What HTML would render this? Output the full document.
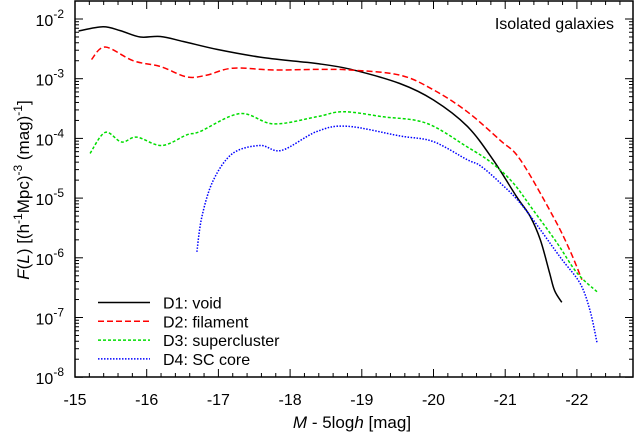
<!DOCTYPE html>
<html><head><meta charset="utf-8"><style>
body{margin:0;background:#fff}
svg{display:block;font-family:"Liberation Sans",sans-serif}
</style></head><body>
<svg id="chart" width="635" height="433" viewBox="0 0 635 433" xmlns="http://www.w3.org/2000/svg">
<g id="plot"></g>
</svg>
<script>
const xMags=[-15,-16,-17,-18,-19,-20,-21,-22];
const yExps=[-2,-3,-4,-5,-6,-7,-8];
const voidX=[-15.05,-15.39,-15.63,-15.91,-16.19,-16.51,-16.98,-17.58,-18.14,-18.37,-18.84,-19.53,-20,-20.47,-20.83,-21.16,-21.35,-21.49,-21.62,-21.69,-21.79];
const voidY=[6.3e-3,7.4e-3,6.4e-3,5.0e-3,5.1e-3,4.2e-3,3.1e-3,2.3e-3,1.93e-3,1.8e-3,1.44e-3,8.3e-4,4.4e-4,1.6e-4,4.4e-5,1.05e-5,4.9e-6,2.0e-6,5.5e-7,2.8e-7,1.8e-7];
const filX=[-15.23,-15.42,-15.81,-16.19,-16.56,-16.84,-17.2,-17.77,-18.37,-18.84,-19.53,-20,-20.47,-20.93,-21.21,-21.67,-21.9,-22.07];
const filY=[2.1e-3,3.4e-3,2.0e-3,1.6e-3,1.07e-3,1.15e-3,1.5e-3,1.4e-3,1.43e-3,1.4e-3,1.15e-3,6.5e-4,2.8e-4,9.3e-5,4.4e-5,4.9e-6,1.35e-6,4.3e-7];
const supX=[-15.21,-15.42,-15.65,-15.86,-16.21,-16.56,-16.74,-17.3,-17.77,-18.37,-18.74,-19.3,-19.9,-20.47,-20.81,-21.11,-21.39,-21.72,-22.0,-22.28];
const supY=[5.6e-5,1.26e-4,8.7e-5,1.05e-4,7.6e-5,1.15e-4,1.3e-4,2.6e-4,1.75e-4,2.3e-4,2.8e-4,2.3e-4,1.8e-4,7.2e-5,3.9e-5,1.8e-5,6.3e-6,1.8e-6,5.6e-7,2.7e-7];
const scX=[-16.7,-16.77,-16.93,-17.2,-17.58,-17.88,-18.37,-18.79,-19.53,-19.99,-20.47,-20.65,-20.93,-21.25,-21.76,-22.04,-22.18,-22.28];
const scY=[1.26e-6,4.9e-6,2.0e-5,5.6e-5,7.6e-5,6.3e-5,1.3e-4,1.6e-4,1.1e-4,8.9e-5,4.4e-5,3.5e-5,1.8e-5,7.2e-6,1.05e-6,3.8e-7,1.35e-7,3.8e-8];
const labels=["D1: void","D2: filament","D3: supercluster","D4: SC core"];

const L=75,R=633,T=1,B=377;
function sx(m){return 75+(-15-m)*71.7;}
function sy(v){return 19+(-2-Math.log10(v))*59.7;}
const NS="http://www.w3.org/2000/svg";
const g=document.getElementById('plot');
function mk(t,a){const e=document.createElementNS(NS,t);for(const k in a)e.setAttribute(k,a[k]);g.appendChild(e);return e;}
function smooth(p){
  let d='M'+p[0][0].toFixed(1)+','+p[0][1].toFixed(1);
  for(let i=0;i<p.length-1;i++){
    const p0=p[Math.max(0,i-1)],p1=p[i],p2=p[i+1],p3=p[Math.min(p.length-1,i+2)];
    const c1=[p1[0]+(p2[0]-p0[0])/6,p1[1]+(p2[1]-p0[1])/6];
    const c2=[p2[0]-(p3[0]-p1[0])/6,p2[1]-(p3[1]-p1[1])/6];
    d+=' C'+c1.map(v=>v.toFixed(1)).join(',')+' '+c2.map(v=>v.toFixed(1)).join(',')+' '+p2[0].toFixed(1)+','+p2[1].toFixed(1);
  }
  return d;
}

const frame=mk('rect',{x:L,y:T,width:R-L,height:B-T,fill:'none',stroke:'#000','stroke-width':1.5});



for(let i=0;i<=40;i++){
  const mm=-15-i*0.2, major=i%5===0;
  const x=sx(mm); if(x<L||x>R)continue;
  const len=major?8:4;
  mk('line',{x1:x,y1:B,x2:x,y2:B-len,stroke:'#000','stroke-width':1});
  mk('line',{x1:x,y1:T,x2:x,y2:T+len,stroke:'#000','stroke-width':1});
}
xMags.forEach(m=>{
  const t=mk('text',{x:sx(m),y:405,'font-size':16,'text-anchor':'middle'});
  t.textContent=String(m);
  
  
});
for(let e=-9;e<=-1;e++){
  for(let k=1;k<10;k++){
    const v=k*Math.pow(10,e), y=sy(v);
    if(y<T||y>B+0.5)continue;
    const len=k===1?8:4;
    mk('line',{x1:L,y1:y,x2:L+len,y2:y,stroke:'#000','stroke-width':1});
    mk('line',{x1:R,y1:y,x2:R-len,y2:y,stroke:'#000','stroke-width':1});
  }
}
yExps.forEach(e=>{
  const t=mk('text',{x:64,y:sy(Math.pow(10,e))+7,'font-size':16,'text-anchor':'end'});
  t.innerHTML='10<tspan dy="-8" font-size="12">'+e+'</tspan>';
  
  
});

const series=[
 {x:voidX,y:voidY,c:'#000',d:'',n:'series-void'},
 {x:filX,y:filY,c:'#ff0000',d:'6,3',n:'series-filament'},
 {x:supX,y:supY,c:'#00dd00',d:'3,2',n:'series-supercluster'},
 {x:scX,y:scY,c:'#0000ff',d:'1.5,1.5',n:'series-sc-core'}];
series.forEach((s,i)=>{
  const pts=s.x.map((m,j)=>[sx(m),sy(s.y[j])]);
  const p=mk('path',{d:smooth(pts),fill:'none',stroke:s.c,'stroke-width':1.5,'stroke-dasharray':s.d,'stroke-linejoin':'round'});
  
  
  const ly=302.5+i*18.8;
  const ll=mk('line',{x1:98,y1:ly,x2:150,y2:ly,stroke:s.c,'stroke-width':1.5,'stroke-dasharray':s.d});
  
  
  const lt=mk('text',{x:163,y:ly+6,'font-size':16});
  lt.textContent=labels[i];
  
  
});

const title=mk('text',{x:614,y:29,'font-size':16,'text-anchor':'end'});
title.textContent='Isolated galaxies';



const xl=mk('text',{x:352,y:428,'font-size':17,'text-anchor':'middle'});
xl.innerHTML='<tspan font-style="italic">M</tspan> - 5log<tspan font-style="italic">h</tspan>  [mag]';
xl.setAttribute('xml:space','preserve');



const yl=mk('text',{x:0,y:0,'font-size':17,'text-anchor':'middle',transform:'translate(29,190) rotate(-90)'});
yl.innerHTML='<tspan font-style="italic">F</tspan>(<tspan font-style="italic">L</tspan>)  [(h<tspan dy="-7" font-size="12">-1</tspan><tspan dy="7">Mpc)</tspan><tspan dy="-7" font-size="12">-3</tspan><tspan dy="7"> (mag)</tspan><tspan dy="-7" font-size="12">-1</tspan><tspan dy="7">]</tspan>';


</script>
</body></html>
